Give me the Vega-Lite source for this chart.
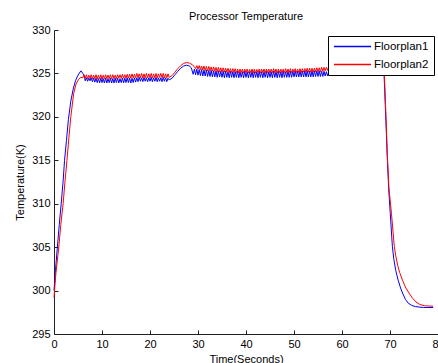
{
  "$schema": "https://vega.github.io/schema/vega-lite/v6.json",
  "width": 384,
  "height": 304,
  "autosize": "none",
  "padding": {"left": 54, "top": 30, "right": 0, "bottom": 29},
  "background": "white",
  "config": {"view": {"stroke": null}},
  "title": {"text": "Processor Temperature", "fontSize": 11, "fontWeight": "normal", "font": "Liberation Sans", "color": "#000", "offset": 2, "anchor": "middle"},
  "datasets": {
    "temps": [
      {"s":"Floorplan1","t":0,"v":300.0},{"s":"Floorplan1","t":0.3,"v":302.3},{"s":"Floorplan1","t":0.7,"v":305.0},{"s":"Floorplan1","t":1.1,"v":307.6},{"s":"Floorplan1","t":1.5,"v":310.0},{"s":"Floorplan1","t":1.9,"v":312.6},{"s":"Floorplan1","t":2.2,"v":315.0},{"s":"Floorplan1","t":2.6,"v":317.3},{"s":"Floorplan1","t":3.0,"v":319.7},{"s":"Floorplan1","t":3.5,"v":321.8},{"s":"Floorplan1","t":4.0,"v":323.2},{"s":"Floorplan1","t":4.5,"v":324.2},{"s":"Floorplan1","t":5.0,"v":324.8},{"s":"Floorplan1","t":5.6,"v":325.3},{"s":"Floorplan1","t":6.0,"v":325.0},{"s":"Floorplan1","t":6.3,"v":324.7},
      {"s":"Floorplan1","t":6.5,"v":324.15},{"s":"Floorplan1","t":6.75,"v":324.5},{"s":"Floorplan1","t":7.0,"v":324.1},{"s":"Floorplan1","t":7.25,"v":324.45},{"s":"Floorplan1","t":7.5,"v":324.15},{"s":"Floorplan1","t":7.75,"v":324.5},{"s":"Floorplan1","t":8.0,"v":324.05},{"s":"Floorplan1","t":8.25,"v":324.45},{"s":"Floorplan1","t":8.5,"v":324.0},{"s":"Floorplan1","t":8.75,"v":324.45},{"s":"Floorplan1","t":9.0,"v":323.95},{"s":"Floorplan1","t":9.25,"v":324.4},{"s":"Floorplan1","t":9.5,"v":323.9},{"s":"Floorplan1","t":9.75,"v":324.45},{"s":"Floorplan1","t":10.0,"v":323.95},{"s":"Floorplan1","t":10.25,"v":324.4},{"s":"Floorplan1","t":10.5,"v":323.9},{"s":"Floorplan1","t":10.75,"v":324.45},{"s":"Floorplan1","t":11.0,"v":323.9},{"s":"Floorplan1","t":11.25,"v":324.4},{"s":"Floorplan1","t":11.5,"v":323.95},{"s":"Floorplan1","t":11.75,"v":324.45},{"s":"Floorplan1","t":12.0,"v":323.9},{"s":"Floorplan1","t":12.25,"v":324.4},{"s":"Floorplan1","t":12.5,"v":323.9},{"s":"Floorplan1","t":12.75,"v":324.45},{"s":"Floorplan1","t":13.0,"v":323.95},{"s":"Floorplan1","t":13.25,"v":324.45},{"s":"Floorplan1","t":13.5,"v":323.9},{"s":"Floorplan1","t":13.75,"v":324.4},{"s":"Floorplan1","t":14.0,"v":323.95},{"s":"Floorplan1","t":14.25,"v":324.45},{"s":"Floorplan1","t":14.5,"v":323.9},{"s":"Floorplan1","t":14.75,"v":324.45},{"s":"Floorplan1","t":15.0,"v":323.95},{"s":"Floorplan1","t":15.25,"v":324.5},{"s":"Floorplan1","t":15.5,"v":323.95},{"s":"Floorplan1","t":15.75,"v":324.45},{"s":"Floorplan1","t":16.0,"v":323.9},{"s":"Floorplan1","t":16.25,"v":324.45},{"s":"Floorplan1","t":16.5,"v":323.95},{"s":"Floorplan1","t":16.75,"v":324.5},{"s":"Floorplan1","t":17.0,"v":324.0},{"s":"Floorplan1","t":17.25,"v":324.5},{"s":"Floorplan1","t":17.5,"v":324.05},{"s":"Floorplan1","t":17.75,"v":324.55},{"s":"Floorplan1","t":18.0,"v":324.1},{"s":"Floorplan1","t":18.25,"v":324.5},{"s":"Floorplan1","t":18.5,"v":324.05},{"s":"Floorplan1","t":18.75,"v":324.55},{"s":"Floorplan1","t":19.0,"v":324.1},{"s":"Floorplan1","t":19.25,"v":324.5},{"s":"Floorplan1","t":19.5,"v":324.05},{"s":"Floorplan1","t":19.75,"v":324.5},{"s":"Floorplan1","t":20.0,"v":324.1},{"s":"Floorplan1","t":20.25,"v":324.55},{"s":"Floorplan1","t":20.5,"v":324.05},{"s":"Floorplan1","t":20.75,"v":324.5},{"s":"Floorplan1","t":21.0,"v":324.1},{"s":"Floorplan1","t":21.25,"v":324.55},{"s":"Floorplan1","t":21.5,"v":324.05},{"s":"Floorplan1","t":21.75,"v":324.5},{"s":"Floorplan1","t":22.0,"v":324.1},{"s":"Floorplan1","t":22.25,"v":324.5},{"s":"Floorplan1","t":22.5,"v":324.05},{"s":"Floorplan1","t":22.75,"v":324.55},{"s":"Floorplan1","t":23.0,"v":324.1},{"s":"Floorplan1","t":23.25,"v":324.5},{"s":"Floorplan1","t":23.5,"v":324.05},{"s":"Floorplan1","t":23.75,"v":324.45},{"s":"Floorplan1","t":24.0,"v":324.25},
      {"s":"Floorplan1","t":24.6,"v":324.45},{"s":"Floorplan1","t":25.2,"v":324.85},{"s":"Floorplan1","t":25.8,"v":325.25},{"s":"Floorplan1","t":26.4,"v":325.6},{"s":"Floorplan1","t":27.0,"v":325.85},{"s":"Floorplan1","t":27.6,"v":325.95},{"s":"Floorplan1","t":28.2,"v":325.85},{"s":"Floorplan1","t":28.6,"v":325.65},
      {"s":"Floorplan1","t":29.0,"v":324.9},{"s":"Floorplan1","t":29.25,"v":325.5},{"s":"Floorplan1","t":29.5,"v":324.85},{"s":"Floorplan1","t":29.75,"v":325.5},{"s":"Floorplan1","t":30.0,"v":324.8},{"s":"Floorplan1","t":30.25,"v":325.45},{"s":"Floorplan1","t":30.5,"v":324.75},{"s":"Floorplan1","t":30.75,"v":325.45},{"s":"Floorplan1","t":31.0,"v":324.7},{"s":"Floorplan1","t":31.25,"v":325.4},{"s":"Floorplan1","t":31.5,"v":324.7},{"s":"Floorplan1","t":31.75,"v":325.4},{"s":"Floorplan1","t":32.0,"v":324.65},{"s":"Floorplan1","t":32.25,"v":325.35},{"s":"Floorplan1","t":32.5,"v":324.65},{"s":"Floorplan1","t":32.75,"v":325.35},{"s":"Floorplan1","t":33.0,"v":324.6},{"s":"Floorplan1","t":33.25,"v":325.3},{"s":"Floorplan1","t":33.5,"v":324.6},{"s":"Floorplan1","t":33.75,"v":325.3},{"s":"Floorplan1","t":34.0,"v":324.55},{"s":"Floorplan1","t":34.25,"v":325.3},{"s":"Floorplan1","t":34.5,"v":324.6},{"s":"Floorplan1","t":34.75,"v":325.25},{"s":"Floorplan1","t":35.0,"v":324.55},{"s":"Floorplan1","t":35.25,"v":325.25},{"s":"Floorplan1","t":35.5,"v":324.5},{"s":"Floorplan1","t":35.75,"v":325.25},{"s":"Floorplan1","t":36.0,"v":324.55},{"s":"Floorplan1","t":36.25,"v":325.2},{"s":"Floorplan1","t":36.5,"v":324.5},{"s":"Floorplan1","t":36.75,"v":325.25},{"s":"Floorplan1","t":37.0,"v":324.55},{"s":"Floorplan1","t":37.25,"v":325.2},{"s":"Floorplan1","t":37.5,"v":324.5},{"s":"Floorplan1","t":37.75,"v":325.2},{"s":"Floorplan1","t":38.0,"v":324.55},{"s":"Floorplan1","t":38.25,"v":325.25},{"s":"Floorplan1","t":38.5,"v":324.5},{"s":"Floorplan1","t":38.75,"v":325.2},{"s":"Floorplan1","t":39.0,"v":324.55},{"s":"Floorplan1","t":39.25,"v":325.2},{"s":"Floorplan1","t":39.5,"v":324.5},{"s":"Floorplan1","t":39.75,"v":325.25},{"s":"Floorplan1","t":40.0,"v":324.55},{"s":"Floorplan1","t":40.25,"v":325.2},{"s":"Floorplan1","t":40.5,"v":324.5},{"s":"Floorplan1","t":40.75,"v":325.2},{"s":"Floorplan1","t":41.0,"v":324.55},{"s":"Floorplan1","t":41.25,"v":325.25},{"s":"Floorplan1","t":41.5,"v":324.5},{"s":"Floorplan1","t":41.75,"v":325.2},{"s":"Floorplan1","t":42.0,"v":324.55},{"s":"Floorplan1","t":42.25,"v":325.2},{"s":"Floorplan1","t":42.5,"v":324.5},{"s":"Floorplan1","t":42.75,"v":325.25},{"s":"Floorplan1","t":43.0,"v":324.55},{"s":"Floorplan1","t":43.25,"v":325.2},{"s":"Floorplan1","t":43.5,"v":324.5},{"s":"Floorplan1","t":43.75,"v":325.2},{"s":"Floorplan1","t":44.0,"v":324.55},{"s":"Floorplan1","t":44.25,"v":325.25},{"s":"Floorplan1","t":44.5,"v":324.5},{"s":"Floorplan1","t":44.75,"v":325.2},{"s":"Floorplan1","t":45.0,"v":324.55},{"s":"Floorplan1","t":45.25,"v":325.2},{"s":"Floorplan1","t":45.5,"v":324.5},{"s":"Floorplan1","t":45.75,"v":325.25},{"s":"Floorplan1","t":46.0,"v":324.55},{"s":"Floorplan1","t":46.25,"v":325.2},{"s":"Floorplan1","t":46.5,"v":324.5},{"s":"Floorplan1","t":46.75,"v":325.25},{"s":"Floorplan1","t":47.0,"v":324.55},{"s":"Floorplan1","t":47.25,"v":325.2},{"s":"Floorplan1","t":47.5,"v":324.5},{"s":"Floorplan1","t":47.75,"v":325.25},{"s":"Floorplan1","t":48.0,"v":324.55},{"s":"Floorplan1","t":48.25,"v":325.2},{"s":"Floorplan1","t":48.5,"v":324.55},{"s":"Floorplan1","t":48.75,"v":325.25},{"s":"Floorplan1","t":49.0,"v":324.55},{"s":"Floorplan1","t":49.25,"v":325.25},{"s":"Floorplan1","t":49.5,"v":324.55},{"s":"Floorplan1","t":49.75,"v":325.25},{"s":"Floorplan1","t":50.0,"v":324.6},{"s":"Floorplan1","t":50.25,"v":325.3},{"s":"Floorplan1","t":50.5,"v":324.6},{"s":"Floorplan1","t":50.75,"v":325.25},{"s":"Floorplan1","t":51.0,"v":324.6},{"s":"Floorplan1","t":51.25,"v":325.3},{"s":"Floorplan1","t":51.5,"v":324.6},{"s":"Floorplan1","t":51.75,"v":325.25},{"s":"Floorplan1","t":52.0,"v":324.6},{"s":"Floorplan1","t":52.25,"v":325.3},{"s":"Floorplan1","t":52.5,"v":324.6},{"s":"Floorplan1","t":52.75,"v":325.3},{"s":"Floorplan1","t":53.0,"v":324.6},{"s":"Floorplan1","t":53.25,"v":325.25},{"s":"Floorplan1","t":53.5,"v":324.6},{"s":"Floorplan1","t":53.75,"v":325.3},{"s":"Floorplan1","t":54.0,"v":324.6},{"s":"Floorplan1","t":54.25,"v":325.3},{"s":"Floorplan1","t":54.5,"v":324.65},{"s":"Floorplan1","t":54.75,"v":325.3},{"s":"Floorplan1","t":55.0,"v":324.65},{"s":"Floorplan1","t":55.25,"v":325.3},{"s":"Floorplan1","t":55.5,"v":324.65},{"s":"Floorplan1","t":55.75,"v":325.25},{"s":"Floorplan1","t":56.0,"v":324.65},{"s":"Floorplan1","t":56.25,"v":325.25},{"s":"Floorplan1","t":56.5,"v":324.7},{"s":"Floorplan1","t":56.75,"v":325.2},{"s":"Floorplan1","t":57.0,"v":324.7},{"s":"Floorplan1","t":57.25,"v":325.2},{"s":"Floorplan1","t":57.5,"v":324.7},{"s":"Floorplan1","t":57.75,"v":325.2},{"s":"Floorplan1","t":58.0,"v":324.7},{"s":"Floorplan1","t":58.25,"v":325.2},{"s":"Floorplan1","t":58.5,"v":324.7},{"s":"Floorplan1","t":58.75,"v":325.2},{"s":"Floorplan1","t":59.0,"v":324.7},{"s":"Floorplan1","t":59.25,"v":325.2},{"s":"Floorplan1","t":59.5,"v":324.7},{"s":"Floorplan1","t":59.75,"v":325.2},{"s":"Floorplan1","t":60.0,"v":324.7},{"s":"Floorplan1","t":60.25,"v":325.2},{"s":"Floorplan1","t":60.5,"v":324.7},{"s":"Floorplan1","t":60.75,"v":325.2},{"s":"Floorplan1","t":61.0,"v":324.7},{"s":"Floorplan1","t":61.25,"v":325.2},{"s":"Floorplan1","t":61.5,"v":324.7},{"s":"Floorplan1","t":61.75,"v":325.2},{"s":"Floorplan1","t":62.0,"v":324.7},{"s":"Floorplan1","t":62.25,"v":325.2},{"s":"Floorplan1","t":62.5,"v":324.7},{"s":"Floorplan1","t":62.75,"v":325.2},{"s":"Floorplan1","t":63.0,"v":324.7},{"s":"Floorplan1","t":63.25,"v":325.2},{"s":"Floorplan1","t":63.5,"v":324.7},{"s":"Floorplan1","t":63.75,"v":325.2},{"s":"Floorplan1","t":64.0,"v":324.7},{"s":"Floorplan1","t":64.25,"v":325.2},{"s":"Floorplan1","t":64.5,"v":324.7},{"s":"Floorplan1","t":64.75,"v":325.2},{"s":"Floorplan1","t":65.0,"v":324.75},
      {"s":"Floorplan1","t":65.5,"v":325.5},{"s":"Floorplan1","t":66.5,"v":325.55},{"s":"Floorplan1","t":67.5,"v":325.55},{"s":"Floorplan1","t":68.5,"v":325.5},
      {"s":"Floorplan1","t":68.75,"v":325.0},{"s":"Floorplan1","t":68.9,"v":323.0},{"s":"Floorplan1","t":69.15,"v":319.5},{"s":"Floorplan1","t":69.4,"v":315.8},{"s":"Floorplan1","t":69.72,"v":311.8},{"s":"Floorplan1","t":70.05,"v":308.9},{"s":"Floorplan1","t":70.5,"v":305.05},{"s":"Floorplan1","t":70.8,"v":303.6},{"s":"Floorplan1","t":71.2,"v":302.3},{"s":"Floorplan1","t":71.7,"v":301.2},{"s":"Floorplan1","t":72.2,"v":300.3},{"s":"Floorplan1","t":72.7,"v":299.6},{"s":"Floorplan1","t":73.2,"v":299.0},{"s":"Floorplan1","t":73.8,"v":298.55},{"s":"Floorplan1","t":74.5,"v":298.3},{"s":"Floorplan1","t":75.3,"v":298.15},{"s":"Floorplan1","t":77.0,"v":298.05},{"s":"Floorplan1","t":79.0,"v":298.05},

      {"s":"Floorplan2","t":0,"v":299.2},{"s":"Floorplan2","t":0.4,"v":302.0},{"s":"Floorplan2","t":0.8,"v":304.0},{"s":"Floorplan2","t":1.0,"v":305.0},{"s":"Floorplan2","t":1.4,"v":307.5},{"s":"Floorplan2","t":1.9,"v":310.0},{"s":"Floorplan2","t":2.3,"v":312.6},{"s":"Floorplan2","t":2.7,"v":315.0},{"s":"Floorplan2","t":3.1,"v":317.6},{"s":"Floorplan2","t":3.5,"v":320.0},{"s":"Floorplan2","t":4.1,"v":322.7},{"s":"Floorplan2","t":4.6,"v":323.8},{"s":"Floorplan2","t":5.1,"v":324.3},{"s":"Floorplan2","t":5.6,"v":324.55},
      {"s":"Floorplan2","t":6.0,"v":324.5},{"s":"Floorplan2","t":6.25,"v":324.85},{"s":"Floorplan2","t":6.5,"v":324.45},{"s":"Floorplan2","t":6.75,"v":324.85},{"s":"Floorplan2","t":7.0,"v":324.4},{"s":"Floorplan2","t":7.25,"v":324.8},{"s":"Floorplan2","t":7.5,"v":324.4},{"s":"Floorplan2","t":7.75,"v":324.85},{"s":"Floorplan2","t":8.0,"v":324.4},{"s":"Floorplan2","t":8.25,"v":324.8},{"s":"Floorplan2","t":8.5,"v":324.4},{"s":"Floorplan2","t":8.75,"v":324.85},{"s":"Floorplan2","t":9.0,"v":324.35},{"s":"Floorplan2","t":9.25,"v":324.8},{"s":"Floorplan2","t":9.5,"v":324.4},{"s":"Floorplan2","t":9.75,"v":324.85},{"s":"Floorplan2","t":10.0,"v":324.35},{"s":"Floorplan2","t":10.25,"v":324.8},{"s":"Floorplan2","t":10.5,"v":324.4},{"s":"Floorplan2","t":10.75,"v":324.85},{"s":"Floorplan2","t":11.0,"v":324.4},{"s":"Floorplan2","t":11.25,"v":324.8},{"s":"Floorplan2","t":11.5,"v":324.4},{"s":"Floorplan2","t":11.75,"v":324.85},{"s":"Floorplan2","t":12.0,"v":324.4},{"s":"Floorplan2","t":12.25,"v":324.85},{"s":"Floorplan2","t":12.5,"v":324.4},{"s":"Floorplan2","t":12.75,"v":324.8},{"s":"Floorplan2","t":13.0,"v":324.4},{"s":"Floorplan2","t":13.25,"v":324.85},{"s":"Floorplan2","t":13.5,"v":324.45},{"s":"Floorplan2","t":13.75,"v":324.85},{"s":"Floorplan2","t":14.0,"v":324.45},{"s":"Floorplan2","t":14.25,"v":324.9},{"s":"Floorplan2","t":14.5,"v":324.45},{"s":"Floorplan2","t":14.75,"v":324.85},{"s":"Floorplan2","t":15.0,"v":324.45},{"s":"Floorplan2","t":15.25,"v":324.9},{"s":"Floorplan2","t":15.5,"v":324.45},{"s":"Floorplan2","t":15.75,"v":324.9},{"s":"Floorplan2","t":16.0,"v":324.45},{"s":"Floorplan2","t":16.25,"v":324.95},{"s":"Floorplan2","t":16.5,"v":324.5},{"s":"Floorplan2","t":16.75,"v":324.9},{"s":"Floorplan2","t":17.0,"v":324.5},{"s":"Floorplan2","t":17.25,"v":325.0},{"s":"Floorplan2","t":17.5,"v":324.5},{"s":"Floorplan2","t":17.75,"v":324.95},{"s":"Floorplan2","t":18.0,"v":324.5},{"s":"Floorplan2","t":18.25,"v":325.0},{"s":"Floorplan2","t":18.5,"v":324.5},{"s":"Floorplan2","t":18.75,"v":324.95},{"s":"Floorplan2","t":19.0,"v":324.5},{"s":"Floorplan2","t":19.25,"v":325.0},{"s":"Floorplan2","t":19.5,"v":324.5},{"s":"Floorplan2","t":19.75,"v":324.95},{"s":"Floorplan2","t":20.0,"v":324.5},{"s":"Floorplan2","t":20.25,"v":325.0},{"s":"Floorplan2","t":20.5,"v":324.5},{"s":"Floorplan2","t":20.75,"v":324.95},{"s":"Floorplan2","t":21.0,"v":324.5},{"s":"Floorplan2","t":21.25,"v":325.0},{"s":"Floorplan2","t":21.5,"v":324.5},{"s":"Floorplan2","t":21.75,"v":324.95},{"s":"Floorplan2","t":22.0,"v":324.55},{"s":"Floorplan2","t":22.25,"v":325.0},{"s":"Floorplan2","t":22.5,"v":324.5},{"s":"Floorplan2","t":22.75,"v":325.0},{"s":"Floorplan2","t":23.0,"v":324.5},{"s":"Floorplan2","t":23.25,"v":324.95},{"s":"Floorplan2","t":23.5,"v":324.5},{"s":"Floorplan2","t":23.75,"v":324.95},{"s":"Floorplan2","t":24.0,"v":324.55},
      {"s":"Floorplan2","t":24.6,"v":324.75},{"s":"Floorplan2","t":25.2,"v":325.15},{"s":"Floorplan2","t":25.8,"v":325.55},{"s":"Floorplan2","t":26.4,"v":325.9},{"s":"Floorplan2","t":27.0,"v":326.15},{"s":"Floorplan2","t":27.6,"v":326.25},{"s":"Floorplan2","t":28.2,"v":326.2},{"s":"Floorplan2","t":28.8,"v":326.0},{"s":"Floorplan2","t":29.2,"v":325.8},
      {"s":"Floorplan2","t":29.5,"v":325.55},{"s":"Floorplan2","t":29.75,"v":325.9},{"s":"Floorplan2","t":30.0,"v":325.5},{"s":"Floorplan2","t":30.25,"v":325.9},{"s":"Floorplan2","t":30.5,"v":325.45},{"s":"Floorplan2","t":30.75,"v":325.85},{"s":"Floorplan2","t":31.0,"v":325.4},{"s":"Floorplan2","t":31.25,"v":325.85},{"s":"Floorplan2","t":31.5,"v":325.35},{"s":"Floorplan2","t":31.75,"v":325.8},{"s":"Floorplan2","t":32.0,"v":325.3},{"s":"Floorplan2","t":32.25,"v":325.8},{"s":"Floorplan2","t":32.5,"v":325.3},{"s":"Floorplan2","t":32.75,"v":325.75},{"s":"Floorplan2","t":33.0,"v":325.25},{"s":"Floorplan2","t":33.25,"v":325.75},{"s":"Floorplan2","t":33.5,"v":325.25},{"s":"Floorplan2","t":33.75,"v":325.7},{"s":"Floorplan2","t":34.0,"v":325.2},{"s":"Floorplan2","t":34.25,"v":325.7},{"s":"Floorplan2","t":34.5,"v":325.2},{"s":"Floorplan2","t":34.75,"v":325.65},{"s":"Floorplan2","t":35.0,"v":325.15},{"s":"Floorplan2","t":35.25,"v":325.65},{"s":"Floorplan2","t":35.5,"v":325.15},{"s":"Floorplan2","t":35.75,"v":325.6},{"s":"Floorplan2","t":36.0,"v":325.15},{"s":"Floorplan2","t":36.25,"v":325.6},{"s":"Floorplan2","t":36.5,"v":325.1},{"s":"Floorplan2","t":36.75,"v":325.55},{"s":"Floorplan2","t":37.0,"v":325.1},{"s":"Floorplan2","t":37.25,"v":325.55},{"s":"Floorplan2","t":37.5,"v":325.1},{"s":"Floorplan2","t":37.75,"v":325.55},{"s":"Floorplan2","t":38.0,"v":325.1},{"s":"Floorplan2","t":38.25,"v":325.5},{"s":"Floorplan2","t":38.5,"v":325.05},{"s":"Floorplan2","t":38.75,"v":325.5},{"s":"Floorplan2","t":39.0,"v":325.1},{"s":"Floorplan2","t":39.25,"v":325.5},{"s":"Floorplan2","t":39.5,"v":325.05},{"s":"Floorplan2","t":39.75,"v":325.5},{"s":"Floorplan2","t":40.0,"v":325.1},{"s":"Floorplan2","t":40.25,"v":325.5},{"s":"Floorplan2","t":40.5,"v":325.05},{"s":"Floorplan2","t":40.75,"v":325.45},{"s":"Floorplan2","t":41.0,"v":325.1},{"s":"Floorplan2","t":41.25,"v":325.5},{"s":"Floorplan2","t":41.5,"v":325.05},{"s":"Floorplan2","t":41.75,"v":325.5},{"s":"Floorplan2","t":42.0,"v":325.05},{"s":"Floorplan2","t":42.25,"v":325.45},{"s":"Floorplan2","t":42.5,"v":325.1},{"s":"Floorplan2","t":42.75,"v":325.5},{"s":"Floorplan2","t":43.0,"v":325.05},{"s":"Floorplan2","t":43.25,"v":325.5},{"s":"Floorplan2","t":43.5,"v":325.1},{"s":"Floorplan2","t":43.75,"v":325.5},{"s":"Floorplan2","t":44.0,"v":325.05},{"s":"Floorplan2","t":44.25,"v":325.5},{"s":"Floorplan2","t":44.5,"v":325.1},{"s":"Floorplan2","t":44.75,"v":325.5},{"s":"Floorplan2","t":45.0,"v":325.05},{"s":"Floorplan2","t":45.25,"v":325.5},{"s":"Floorplan2","t":45.5,"v":325.1},{"s":"Floorplan2","t":45.75,"v":325.55},{"s":"Floorplan2","t":46.0,"v":325.1},{"s":"Floorplan2","t":46.25,"v":325.5},{"s":"Floorplan2","t":46.5,"v":325.05},{"s":"Floorplan2","t":46.75,"v":325.5},{"s":"Floorplan2","t":47.0,"v":325.1},{"s":"Floorplan2","t":47.25,"v":325.5},{"s":"Floorplan2","t":47.5,"v":325.05},{"s":"Floorplan2","t":47.75,"v":325.5},{"s":"Floorplan2","t":48.0,"v":325.1},{"s":"Floorplan2","t":48.25,"v":325.55},{"s":"Floorplan2","t":48.5,"v":325.1},{"s":"Floorplan2","t":48.75,"v":325.5},{"s":"Floorplan2","t":49.0,"v":325.1},{"s":"Floorplan2","t":49.25,"v":325.55},{"s":"Floorplan2","t":49.5,"v":325.1},{"s":"Floorplan2","t":49.75,"v":325.5},{"s":"Floorplan2","t":50.0,"v":325.1},{"s":"Floorplan2","t":50.25,"v":325.55},{"s":"Floorplan2","t":50.5,"v":325.1},{"s":"Floorplan2","t":50.75,"v":325.5},{"s":"Floorplan2","t":51.0,"v":325.1},{"s":"Floorplan2","t":51.25,"v":325.55},{"s":"Floorplan2","t":51.5,"v":325.1},{"s":"Floorplan2","t":51.75,"v":325.55},{"s":"Floorplan2","t":52.0,"v":325.15},{"s":"Floorplan2","t":52.25,"v":325.55},{"s":"Floorplan2","t":52.5,"v":325.15},{"s":"Floorplan2","t":52.75,"v":325.6},{"s":"Floorplan2","t":53.0,"v":325.15},{"s":"Floorplan2","t":53.25,"v":325.6},{"s":"Floorplan2","t":53.5,"v":325.15},{"s":"Floorplan2","t":53.75,"v":325.6},{"s":"Floorplan2","t":54.0,"v":325.15},{"s":"Floorplan2","t":54.25,"v":325.6},{"s":"Floorplan2","t":54.5,"v":325.2},{"s":"Floorplan2","t":54.75,"v":325.65},{"s":"Floorplan2","t":55.0,"v":325.2},{"s":"Floorplan2","t":55.25,"v":325.65},{"s":"Floorplan2","t":55.5,"v":325.2},{"s":"Floorplan2","t":55.75,"v":325.7},{"s":"Floorplan2","t":56.0,"v":325.25},{"s":"Floorplan2","t":56.25,"v":325.7},{"s":"Floorplan2","t":56.5,"v":325.3},{"s":"Floorplan2","t":56.75,"v":325.7},{"s":"Floorplan2","t":57.0,"v":325.35},{"s":"Floorplan2","t":57.25,"v":325.75},{"s":"Floorplan2","t":57.5,"v":325.4},{"s":"Floorplan2","t":57.75,"v":325.75},{"s":"Floorplan2","t":58.0,"v":325.4},{"s":"Floorplan2","t":58.25,"v":325.75},{"s":"Floorplan2","t":58.5,"v":325.4},{"s":"Floorplan2","t":58.75,"v":325.75},{"s":"Floorplan2","t":59.0,"v":325.4},{"s":"Floorplan2","t":59.5,"v":325.75},{"s":"Floorplan2","t":60.0,"v":325.4},{"s":"Floorplan2","t":60.5,"v":325.75},{"s":"Floorplan2","t":61.0,"v":325.4},{"s":"Floorplan2","t":61.5,"v":325.75},{"s":"Floorplan2","t":62.0,"v":325.4},{"s":"Floorplan2","t":62.5,"v":325.75},{"s":"Floorplan2","t":63.0,"v":325.4},{"s":"Floorplan2","t":63.5,"v":325.75},{"s":"Floorplan2","t":64.0,"v":325.4},{"s":"Floorplan2","t":64.5,"v":325.7},{"s":"Floorplan2","t":65.0,"v":325.4},{"s":"Floorplan2","t":65.5,"v":325.7},{"s":"Floorplan2","t":66.0,"v":325.4},{"s":"Floorplan2","t":66.5,"v":325.7},{"s":"Floorplan2","t":67.0,"v":325.4},{"s":"Floorplan2","t":67.5,"v":325.7},{"s":"Floorplan2","t":68.0,"v":325.45},{"s":"Floorplan2","t":68.5,"v":325.5},
      {"s":"Floorplan2","t":68.8,"v":325.3},{"s":"Floorplan2","t":68.95,"v":323.1},{"s":"Floorplan2","t":69.2,"v":319.5},{"s":"Floorplan2","t":69.43,"v":315.8},{"s":"Floorplan2","t":69.78,"v":311.8},{"s":"Floorplan2","t":70.3,"v":308.9},{"s":"Floorplan2","t":70.9,"v":305.05},{"s":"Floorplan2","t":71.2,"v":304.0},{"s":"Floorplan2","t":71.6,"v":302.9},{"s":"Floorplan2","t":72.0,"v":302.1},{"s":"Floorplan2","t":72.6,"v":301.2},{"s":"Floorplan2","t":73.3,"v":300.3},{"s":"Floorplan2","t":74.1,"v":299.6},{"s":"Floorplan2","t":74.8,"v":299.05},{"s":"Floorplan2","t":75.4,"v":298.7},{"s":"Floorplan2","t":76.2,"v":298.4},{"s":"Floorplan2","t":77.2,"v":298.25},{"s":"Floorplan2","t":79.0,"v":298.2}
    ]
  },
  "data": {"name": "temps"},
  "mark": {"type": "line", "strokeWidth": 1},
  "encoding": {
    "x": {
      "field": "t", "type": "quantitative",
      "scale": {"domain": [0, 80], "nice": false, "zero": false},
      "axis": {
        "title": "Time(Seconds)", "values": [0, 10, 20, 30, 40, 50, 60, 70, 80],
        "grid": false, "tickSize": -4, "labelPadding": 8,
        "labelFlush": false, "labelOverlap": false, "labelBound": false,
        "labelFont": "Liberation Sans", "labelFontSize": 11, "labelColor": "#000",
        "domainColor": "#222", "tickColor": "#222",
        "titleFont": "Liberation Sans", "titleFontSize": 11, "titleFontWeight": "normal", "titleColor": "#000", "titlePadding": 4
      }
    },
    "y": {
      "field": "v", "type": "quantitative",
      "scale": {"domain": [295, 330], "nice": false, "zero": false},
      "axis": {
        "title": "Temperature(K)", "values": [295, 300, 305, 310, 315, 320, 325, 330],
        "grid": false, "tickSize": -4, "labelPadding": 8,
        "labelFlush": false, "labelOverlap": false, "labelBound": false,
        "labelFont": "Liberation Sans", "labelFontSize": 11, "labelColor": "#000",
        "domainColor": "#222", "tickColor": "#222",
        "titleFont": "Liberation Sans", "titleFontSize": 11, "titleFontWeight": "normal", "titleColor": "#000", "titlePadding": 6
      }
    },
    "color": {
      "field": "s", "type": "nominal",
      "scale": {"domain": ["Floorplan1", "Floorplan2"], "range": ["#0000ff", "#ff0000"]},
      "legend": {
        "title": null, "orient": "none", "legendX": 274, "legendY": 6,
        "symbolType": "stroke", "symbolSize": 1369, "symbolStrokeWidth": 1.5,
        "clipHeight": 11,
        "labelFont": "Liberation Sans", "labelFontSize": 11.5, "labelColor": "#000",
        "padding": 5, "strokeColor": "#000", "fillColor": "white",
        "rowPadding": 6, "labelOffset": 2, "cornerRadius": 0
      }
    }
  }
}
